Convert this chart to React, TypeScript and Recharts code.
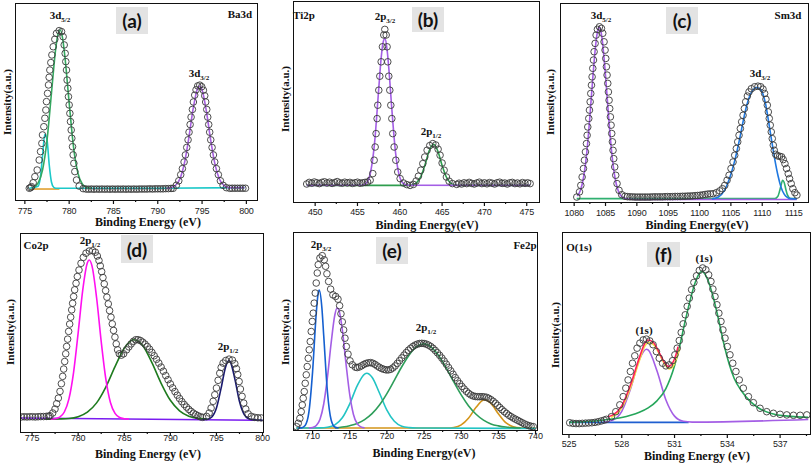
import React from "react";
import { ComposedChart, Line, Scatter, XAxis, YAxis } from "recharts";

type P = [number, number];

const SERIF = '"Liberation Serif", "Times New Roman", serif';
const SANS = '"Liberation Sans", Arial, sans-serif';

// (a) Ba3d
const BA_CIRCLES: P[] = [
  [775.5, 6.0], [775.65, 6.3], [775.75, 6.8], [775.94, 8.8], [776.13, 11.9], [776.39, 15.3], [776.62, 20.4],
  [776.77, 24.7], [776.92, 28.9], [776.99, 33.2], [777.14, 37.4], [777.26, 41.7], [777.37, 45.9], [777.44, 50.2],
  [777.56, 54.4], [777.67, 58.7], [777.74, 62.6], [777.82, 66.3], [777.93, 70.1], [778.05, 74.0], [778.2, 78.2],
  [778.38, 82.0], [778.57, 85.0], [778.87, 86.4], [779.14, 85.9], [779.32, 83.3], [779.44, 79.1], [779.55, 74.8],
  [779.62, 70.6], [779.7, 66.3], [779.77, 61.2], [779.85, 57.0], [779.92, 52.7], [780.0, 48.5], [780.08, 44.2],
  [780.15, 40.0], [780.23, 35.7], [780.3, 31.5], [780.38, 27.2], [780.45, 23.0], [780.53, 18.7], [780.64, 14.5],
  [780.83, 10.2], [781.13, 7.1], [781.58, 5.8], [781.9, 5.6], [782.2, 5.5], [782.5, 5.6], [782.8, 5.5],
  [783.1, 5.6], [783.4, 5.5], [783.7, 5.6], [784.0, 5.5], [784.3, 5.6], [784.6, 5.5], [784.9, 5.6], [785.2, 5.5],
  [785.5, 5.6], [785.8, 5.5], [786.1, 5.6], [786.4, 5.5], [786.7, 5.6], [787.0, 5.5], [787.3, 5.6], [787.6, 5.5],
  [787.9, 5.6], [788.2, 5.6], [788.5, 5.6], [788.8, 5.6], [789.1, 5.7], [789.4, 5.6], [789.7, 5.7], [790.0, 5.7],
  [790.3, 5.7], [790.6, 5.7], [790.9, 5.8], [791.2, 5.8], [791.5, 5.9], [791.73, 5.95], [792.1, 7.5],
  [792.37, 9.8], [792.59, 12.9], [792.78, 16.0], [792.97, 19.4], [793.12, 23.0], [793.27, 26.8], [793.42, 30.7],
  [793.53, 34.6], [793.65, 38.5], [793.76, 42.3], [793.91, 46.2], [794.02, 50.0], [794.17, 53.5], [794.32, 56.2],
  [794.51, 58.2], [794.74, 58.6], [794.96, 57.8], [795.15, 56.0], [795.3, 53.2], [795.41, 50.0], [795.53, 46.2],
  [795.64, 42.3], [795.75, 38.5], [795.86, 34.6], [795.98, 30.7], [796.13, 26.8], [796.28, 23.0], [796.43, 19.4],
  [796.62, 16.0], [796.84, 12.9], [797.07, 9.8], [797.37, 7.5], [797.74, 6.3], [798.12, 5.95], [798.4, 6.0],
  [798.7, 6.0], [799.0, 6.0], [799.3, 6.0], [799.6, 6.0], [799.9, 6.0],
];
const BA_GREEN: P[] = [
  [776.0, 6.6], [776.5, 8.7], [777.0, 15.4], [777.5, 30.5], [778.0, 54.4], [778.5, 77.9], [778.75, 84.8],
  [779.0, 86.7], [779.25, 82.7], [779.5, 73.9], [780.0, 49.6], [780.5, 26.7], [781.0, 13.5], [781.5, 8.0],
  [782.0, 6.4], [782.5, 6.0],
];
const BA_CYAN: P[] = [
  [775.5, 6.0], [776.5, 7.0], [776.75, 11.5], [777.0, 22.8], [777.25, 33.5], [777.5, 30.7], [777.75, 18.0],
  [778.0, 9.2], [778.25, 6.5], [778.5, 6.0], [790.0, 6.0], [799.8, 6.3],
];
const BA_PURPLE: P[] = [
  [791.0, 6.0], [791.5, 6.4], [792.0, 7.5], [792.5, 10.8], [793.0, 18.6], [793.5, 31.6], [794.0, 46.7],
  [794.5, 57.0], [794.75, 58.1], [795.0, 56.2], [795.5, 44.9], [796.0, 29.8], [796.5, 17.4], [797.0, 10.3],
  [797.5, 7.3], [798.0, 6.3], [799.8, 6.3],
];
const BA_ORANGE: P[] = [[775.7, 5.6], [778.9, 5.6]];
const BA_MAJOR = [775, 780, 785, 790, 795, 800];
const BA_MINOR = [777.5, 782.5, 787.5, 792.5, 797.5];

// (b) Ti2p
const TI_CIRCLES: P[] = [
  [449.0, 9.0], [449.3, 9.8], [449.6, 9.4], [449.9, 10.0], [450.2, 9.6], [450.5, 9.2], [450.8, 9.8], [451.1, 10.1],
  [451.4, 9.5], [451.7, 9.9], [452.0, 9.3], [452.3, 9.7], [452.6, 10.2], [452.9, 9.6], [453.2, 9.4], [453.5, 9.9],
  [453.8, 9.5], [454.1, 9.8], [454.4, 9.3], [454.7, 9.6], [455.0, 9.9], [455.3, 9.4], [455.6, 9.6], [455.9, 9.8],
  [456.2, 10.0], [456.5, 10.9], [456.81, 14.2], [456.97, 20.9], [457.09, 27.5], [457.2, 34.2], [457.32, 41.7],
  [457.4, 48.4], [457.52, 55.9], [457.64, 62.9], [457.8, 70.1], [457.95, 77.6], [458.11, 83.5], [458.23, 86.3],
  [458.39, 83.5], [458.5, 77.6], [458.58, 70.1], [458.7, 62.9], [458.82, 55.9], [458.94, 48.4], [459.06, 41.7],
  [459.17, 34.2], [459.33, 27.5], [459.53, 20.9], [459.76, 15.0], [460.04, 11.7], [460.43, 9.5], [460.83, 8.7],
  [461.22, 8.3], [461.61, 8.8], [461.93, 10.5], [462.2, 12.9], [462.48, 15.9], [462.72, 19.2], [462.95, 22.5],
  [463.23, 25.9], [463.54, 28.2], [463.9, 29.2], [464.25, 28.5], [464.53, 26.4], [464.76, 23.4], [465.0, 19.5],
  [465.24, 15.9], [465.51, 12.5], [465.83, 10.4], [466.22, 9.2], [466.73, 8.8], [467.0, 9.4], [467.3, 9.0],
  [467.6, 9.6], [467.9, 9.2], [468.2, 9.8], [468.5, 9.3], [468.8, 9.0], [469.1, 9.5], [469.4, 9.9], [469.7, 9.2],
  [470.0, 9.6], [470.3, 9.1], [470.6, 9.7], [470.9, 9.4], [471.2, 9.0], [471.5, 9.6], [471.8, 9.9], [472.1, 9.3],
  [472.4, 9.5], [472.7, 9.0], [473.0, 9.6], [473.3, 9.8], [473.6, 9.2], [473.9, 9.5], [474.2, 9.1], [474.5, 9.7],
  [474.8, 9.3], [475.1, 9.6], [475.4, 9.2],
];
const TI_PURPLE: P[] = [
  [449.0, 8.3], [455.5, 8.4], [456.0, 9.3], [456.5, 14.0], [457.0, 28.7], [457.5, 55.9], [457.75, 69.7],
  [458.0, 79.2], [458.25, 81.8], [458.5, 76.1], [458.75, 64.5], [459.0, 49.9], [459.5, 24.7], [460.0, 12.4],
  [460.5, 9.0], [461.0, 8.4], [475.4, 8.3],
];
const TI_GREEN: P[] = [
  [449.0, 8.3], [461.0, 8.3], [461.5, 8.6], [462.0, 9.7], [462.5, 12.8], [463.0, 18.9], [463.5, 25.9],
  [464.0, 28.9], [464.5, 25.4], [465.0, 18.3], [465.5, 12.5], [466.0, 9.5], [466.5, 8.5], [467.0, 8.3], [475.4, 8.3],
];
const TI_MAJOR = [450, 455, 460, 465, 470, 475];
const TI_MINOR = [452.5, 457.5, 462.5, 467.5, 472.5];

// (c) Sm3d
const SM_CIRCLES: P[] = [
  [1080.42, 2.5], [1080.85, 5.1], [1081.06, 8.4], [1081.27, 12.6], [1081.48, 16.9], [1081.64, 21.1],
  [1081.8, 25.3], [1081.96, 29.5], [1082.07, 33.7], [1082.17, 37.9], [1082.33, 42.2], [1082.44, 46.4],
  [1082.55, 50.6], [1082.65, 54.8], [1082.76, 59.0], [1082.86, 63.2], [1082.97, 67.5], [1083.08, 71.7],
  [1083.18, 75.9], [1083.34, 80.1], [1083.5, 84.3], [1083.71, 87.2], [1084.03, 88.5], [1084.35, 87.7],
  [1084.56, 85.2], [1084.77, 80.9], [1084.93, 76.7], [1085.04, 72.5], [1085.14, 68.3], [1085.25, 64.1],
  [1085.36, 59.9], [1085.46, 55.6], [1085.57, 51.4], [1085.67, 47.2], [1085.78, 43.0], [1085.89, 38.8],
  [1085.99, 34.6], [1086.1, 30.4], [1086.2, 26.1], [1086.31, 21.9], [1086.47, 17.7], [1086.63, 13.5],
  [1086.84, 9.3], [1087.16, 5.9], [1087.58, 3.7], [1088.11, 2.9], [1088.5, 2.7], [1088.9, 2.6], [1089.3, 2.6],
  [1089.7, 2.5], [1090.1, 2.5], [1090.5, 2.5], [1090.9, 2.5], [1091.3, 2.5], [1091.7, 2.5], [1092.1, 2.5],
  [1092.5, 2.6], [1092.9, 2.6], [1093.3, 2.6], [1093.7, 2.6], [1094.1, 2.6], [1094.5, 2.7], [1094.9, 2.7],
  [1095.3, 2.7], [1095.7, 2.7], [1096.1, 2.8], [1096.5, 2.8], [1096.9, 2.8], [1097.3, 2.9], [1097.7, 2.9],
  [1098.1, 3.0], [1098.5, 3.0], [1098.9, 3.1], [1099.3, 3.2], [1099.7, 3.3], [1100.1, 3.4], [1100.5, 3.6],
  [1100.9, 3.8], [1101.3, 4.0], [1101.7, 4.1], [1102.16, 4.2], [1102.69, 4.7], [1103.22, 5.6], [1103.65, 6.7],
  [1104.02, 8.4], [1104.39, 11.0], [1104.71, 13.5], [1105.02, 16.9], [1105.34, 20.2], [1105.61, 23.6],
  [1105.87, 27.0], [1106.09, 30.4], [1106.3, 33.7], [1106.51, 37.1], [1106.72, 40.5], [1106.94, 43.8],
  [1107.15, 47.2], [1107.36, 50.6], [1107.63, 53.5], [1107.89, 55.6], [1108.26, 57.2], [1108.79, 58.2],
  [1109.32, 58.5], [1109.75, 58.2], [1110.12, 57.0], [1110.38, 54.8], [1110.59, 51.9], [1110.81, 48.9],
  [1110.97, 45.5], [1111.12, 42.2], [1111.28, 38.8], [1111.44, 35.4], [1111.6, 32.0], [1111.76, 28.7],
  [1111.92, 26.1], [1112.13, 24.1], [1112.45, 23.3], [1112.77, 23.1], [1113.09, 22.8], [1113.35, 21.4],
  [1113.62, 19.4], [1113.88, 16.9], [1114.15, 14.3], [1114.36, 11.8], [1114.62, 9.3], [1114.89, 6.7],
  [1115.21, 4.7], [1115.53, 3.5],
];
const SM_PURPLE: P[] = [
  [1080.5, 3.0], [1081.0, 5.9], [1081.5, 12.5], [1082.0, 24.6], [1082.5, 42.8], [1083.0, 63.8], [1083.5, 81.3],
  [1083.75, 86.4], [1084.0, 88.2], [1084.25, 86.4], [1084.5, 81.3], [1085.0, 63.8], [1085.5, 42.8],
  [1086.0, 24.6], [1086.5, 12.5], [1087.0, 5.9], [1087.5, 3.0], [1088.0, 1.9], [1090.0, 1.3], [1115.5, 1.3],
];
const SM_GREEN: P[] = [
  [1080.4, 1.7], [1112.0, 1.7], [1112.5, 2.9], [1112.75, 5.3], [1113.0, 8.4], [1113.25, 11.0], [1113.5, 9.9],
  [1113.75, 6.6], [1114.0, 3.7], [1114.5, 1.8], [1115.5, 1.7],
];
const SM_BLUE: P[] = [
  [1102.0, 1.5], [1103.0, 2.5], [1104.0, 6.0], [1105.0, 14.0], [1105.5, 19.5], [1106.0, 26.0], [1106.5, 33.5],
  [1107.0, 41.5], [1107.5, 48.5], [1108.0, 53.5], [1108.5, 56.5], [1109.0, 57.8], [1109.5, 57.5],
  [1110.0, 55.5], [1110.5, 50.0], [1111.0, 41.0], [1111.5, 31.0], [1112.0, 21.5], [1112.5, 13.5],
  [1113.0, 7.5], [1113.5, 4.0], [1114.0, 2.3], [1114.5, 1.7], [1115.5, 1.5],
];
const SM_MAJOR = [1080, 1085, 1090, 1095, 1100, 1105, 1110, 1115];
const SM_MINOR = [1082.5, 1087.5, 1092.5, 1097.5, 1102.5, 1107.5, 1112.5];

// (d) Co2p
const CO_CIRCLES: P[] = [
  [773.85, 7.6], [774.15, 7.7], [774.45, 7.6], [774.75, 7.7], [775.05, 7.7], [775.35, 7.6], [775.65, 7.7],
  [775.95, 7.8], [776.25, 7.8], [776.55, 7.9], [776.8, 8.0], [776.95, 8.2], [777.24, 9.6], [777.49, 11.6],
  [777.67, 14.3], [777.85, 17.1], [778.03, 20.5], [778.18, 24.4], [778.32, 28.1], [778.43, 31.8], [778.54, 35.6],
  [778.65, 39.5], [778.75, 43.2], [778.86, 46.9], [778.97, 50.8], [779.08, 54.5], [779.19, 58.0], [779.3, 61.7],
  [779.4, 65.0], [779.51, 68.4], [779.62, 71.8], [779.77, 75.1], [779.91, 78.5], [780.09, 81.8], [780.31, 85.2],
  [780.56, 88.2], [780.85, 90.3], [781.21, 91.4], [781.57, 91.6], [781.86, 90.8], [782.08, 88.9], [782.26, 86.6],
  [782.4, 83.9], [782.55, 81.0], [782.69, 78.0], [782.83, 74.8], [782.98, 71.4], [783.12, 68.1], [783.27, 64.7],
  [783.41, 61.3], [783.56, 58.0], [783.7, 54.6], [783.84, 51.3], [783.99, 47.9], [784.13, 44.5], [784.28, 41.5],
  [784.46, 39.5], [784.68, 38.8], [784.93, 39.5], [785.25, 41.5], [785.5, 43.0], [785.75, 44.5], [786.0, 45.8],
  [786.25, 46.6], [786.5, 46.6], [786.75, 46.2], [787.0, 45.4], [787.25, 44.4], [787.5, 43.2], [787.75, 41.8],
  [788.0, 40.2], [788.25, 38.5], [788.5, 36.7], [788.75, 34.8], [789.0, 32.8], [789.25, 30.7], [789.5, 28.5],
  [789.75, 26.4], [790.0, 24.3], [790.25, 22.3], [790.5, 20.4], [790.75, 18.6], [791.0, 16.9], [791.25, 15.3],
  [791.5, 13.9], [791.75, 12.6], [792.0, 11.4], [792.25, 10.4], [792.5, 9.5], [792.75, 8.8], [793.0, 8.2],
  [793.25, 7.7], [793.5, 7.4], [793.92, 7.9], [794.21, 9.6], [794.42, 12.1], [794.64, 15.5], [794.82, 18.8],
  [795.0, 22.2], [795.18, 26.1], [795.36, 29.7], [795.51, 32.6], [795.72, 34.8], [796.01, 36.1], [796.37, 36.8],
  [796.73, 36.3], [796.99, 34.5], [797.17, 32.0], [797.31, 29.0], [797.46, 25.5], [797.6, 21.7], [797.78, 18.0],
  [797.96, 14.6], [798.18, 11.6], [798.43, 9.2], [798.79, 7.9], [799.15, 7.4], [799.5, 7.2], [799.85, 7.1],
];
const CO_MAGENTA: P[] = [
  [777.0, 6.5], [777.5, 6.7], [778.0, 7.5], [778.5, 10.1], [779.0, 16.7], [779.5, 30.0], [780.0, 50.1],
  [780.5, 71.8], [781.0, 85.5], [781.2, 86.9], [781.5, 83.9], [782.0, 67.8], [782.5, 45.7], [783.0, 26.8],
  [783.5, 14.9], [784.0, 9.4], [784.5, 7.3], [785.0, 6.7], [785.5, 6.5],
];
const CO_GREEN: P[] = [
  [776.5, 6.5], [778.0, 6.6], [779.0, 6.8], [780.0, 7.7], [781.0, 10.0], [782.0, 14.7], [783.0, 22.7],
  [784.0, 33.0], [785.0, 42.3], [786.0, 46.6], [787.0, 43.7], [788.0, 35.0], [789.0, 24.6], [790.0, 16.0],
  [791.0, 10.7], [792.0, 8.0], [793.0, 6.9], [794.0, 6.6],
];
const CO_NAVY: P[] = [
  [793.5, 6.3], [794.0, 6.4], [794.5, 7.6], [795.0, 12.1], [795.5, 22.0], [796.0, 33.0], [796.35, 36.1],
  [796.5, 35.5], [797.0, 26.7], [797.5, 15.4], [798.0, 8.9], [798.5, 6.7], [799.0, 6.2], [800.0, 6.0],
];
const CO_BASE: P[] = [[773.8, 7.1], [800.0, 5.9]];
const CO_MAJOR = [775, 780, 785, 790, 795, 800];
const CO_MINOR = [777.5, 782.5, 787.5, 792.5, 797.5];

// (e) Fe2p
const FE_CIRCLES: P[] = [
  [707.84, 1.7], [708.07, 3.4], [708.29, 5.9], [708.47, 9.3], [708.61, 12.7], [708.74, 16.1], [708.88, 19.5],
  [709.01, 23.7], [709.15, 28.0], [709.28, 32.2], [709.42, 36.4], [709.55, 40.7], [709.69, 44.9], [709.82, 50.0],
  [709.96, 55.1], [710.09, 59.3], [710.22, 64.4], [710.36, 69.5], [710.49, 74.6], [710.63, 79.7], [710.76, 83.9],
  [710.99, 87.3], [711.3, 88.5], [711.57, 86.4], [711.75, 83.1], [711.93, 79.3], [712.16, 75.4], [712.43, 71.5],
  [712.74, 68.6], [713.1, 67.8], [713.42, 66.4], [713.64, 63.1], [713.82, 59.0], [714.0, 54.9], [714.18, 50.8],
  [714.36, 46.6], [714.54, 42.4], [714.77, 38.5], [715.04, 35.1], [715.35, 33.1], [715.76, 31.9], [716.0, 31.7],
  [716.3, 32.0], [716.6, 32.6], [716.9, 33.3], [717.2, 33.8], [717.5, 34.1], [717.8, 34.2], [718.1, 33.9],
  [718.4, 33.3], [718.7, 32.5], [719.0, 31.8], [719.3, 31.2], [719.6, 30.8], [719.9, 30.5], [720.2, 30.5],
  [720.5, 30.8], [720.8, 31.5], [721.1, 32.5], [721.4, 33.8], [721.7, 35.2], [722.0, 36.6], [722.3, 38.0],
  [722.6, 39.3], [722.9, 40.5], [723.2, 41.5], [723.5, 42.4], [723.8, 43.1], [724.1, 43.6], [724.4, 43.9],
  [724.7, 44.0], [725.0, 43.9], [725.3, 43.6], [725.6, 43.1], [725.9, 42.4], [726.2, 41.5], [726.5, 40.4],
  [726.8, 39.2], [727.1, 37.9], [727.4, 36.5], [727.7, 35.0], [728.0, 33.4], [728.3, 31.7], [728.6, 30.0],
  [728.9, 28.3], [729.2, 26.6], [729.5, 25.0], [729.8, 23.5], [730.1, 22.1], [730.4, 20.8], [730.7, 19.6],
  [731.0, 18.6], [731.3, 17.8], [731.6, 17.3], [731.9, 17.0], [732.2, 16.9], [732.5, 16.9], [732.8, 16.9],
  [733.1, 16.8], [733.4, 16.6], [733.7, 16.1], [734.0, 15.4], [734.3, 14.6], [734.6, 13.6], [734.9, 12.5],
  [735.2, 11.4], [735.5, 10.3], [735.8, 9.3], [736.1, 8.4], [736.4, 7.5], [736.7, 6.8], [737.0, 6.1],
  [737.3, 5.5], [737.6, 4.9], [737.9, 4.3], [738.2, 3.7], [738.5, 3.1], [738.8, 2.6], [739.1, 2.2],
  [739.4, 1.9], [739.7, 1.7],
];
const FE_BLUE: P[] = [
  [708.0, 1.0], [708.5, 1.1], [709.0, 2.3], [709.5, 8.9], [710.0, 29.5], [710.5, 59.6], [710.75, 69.3],
  [710.9, 71.0], [711.25, 62.1], [711.5, 47.9], [712.0, 19.3], [712.5, 5.1], [713.0, 1.5], [713.5, 1.0],
];
const FE_PURPLE: P[] = [
  [709.5, 1.1], [710.0, 1.3], [710.5, 2.3], [711.0, 5.5], [711.5, 13.2], [712.0, 26.8], [712.5, 44.2],
  [713.0, 58.5], [713.3, 61.9], [713.5, 61.3], [714.0, 50.9], [714.5, 33.6], [715.0, 17.9], [715.5, 7.9],
  [716.0, 3.2], [716.5, 1.6], [717.0, 1.1],
];
const FE_CYAN: P[] = [
  [707.8, 1.0], [711.0, 1.1], [712.0, 1.4], [713.0, 2.6], [714.0, 6.2], [715.0, 13.3], [716.0, 22.4],
  [717.0, 28.4], [717.3, 28.8], [718.0, 26.8], [719.0, 18.8], [720.0, 10.1], [721.0, 4.4], [722.0, 1.9],
  [723.0, 1.2], [724.0, 1.0], [740.0, 0.8],
];
const FE_GREEN: P[] = [
  [713.0, 1.0], [714.0, 1.5], [715.0, 2.2], [716.0, 3.3], [717.0, 5.3], [718.0, 8.3], [719.0, 12.7],
  [720.0, 18.5], [721.0, 25.2], [722.0, 32.1], [723.0, 38.1], [724.0, 42.3], [725.0, 43.7], [726.0, 42.0],
  [727.0, 37.6], [728.0, 31.4], [729.0, 24.4], [730.0, 17.8], [731.0, 12.2], [732.0, 8.0], [733.0, 5.0],
  [734.0, 3.1], [735.0, 2.1], [736.0, 1.5], [737.0, 1.2], [738.0, 1.0],
];
const FE_ORANGE: P[] = [
  [707.8, 1.0], [728.0, 1.0], [729.0, 1.3], [730.0, 2.6], [731.0, 6.1], [732.0, 11.5], [733.0, 15.2],
  [733.2, 15.3], [734.0, 13.5], [735.0, 8.2], [736.0, 3.7], [737.0, 1.7], [738.0, 1.1], [740.0, 1.0],
];
const FE_MAJOR = [710, 715, 720, 725, 730, 735, 740];
const FE_MINOR = [712.5, 717.5, 722.5, 727.5, 732.5, 737.5];

// (f) O1s
const O_CIRCLES: P[] = [
  [525.04, 5.6], [525.22, 5.3], [525.4, 5.2], [525.58, 5.2], [525.76, 5.3], [525.94, 5.4], [526.12, 5.5],
  [526.3, 5.6], [526.48, 5.8], [526.66, 6.1], [526.84, 6.5], [527.0, 6.9], [527.13, 7.3], [527.41, 8.6],
  [527.66, 11.1], [527.89, 14.5], [528.08, 18.6], [528.23, 22.8], [528.36, 26.9], [528.49, 31.1], [528.61, 35.2],
  [528.74, 38.9], [528.87, 42.7], [529.03, 45.2], [529.22, 46.8], [529.4, 47.2], [529.59, 46.3], [529.78, 44.4],
  [529.97, 41.0], [530.13, 37.7], [530.32, 35.2], [530.51, 33.9], [530.7, 34.4], [530.89, 36.5], [531.02, 39.4],
  [531.15, 42.7], [531.27, 46.5], [531.38, 50.5], [531.49, 54.8], [531.61, 59.3], [531.72, 63.5], [531.84, 67.6],
  [531.97, 71.8], [532.1, 75.4], [532.25, 78.7], [532.41, 81.4], [532.6, 82.6], [532.78, 81.7], [532.94, 79.2],
  [533.07, 75.9], [533.18, 72.1], [533.3, 68.4], [533.41, 64.3], [533.52, 60.1], [533.64, 56.0], [533.75, 51.8],
  [533.87, 47.7], [534.0, 43.5], [534.15, 39.4], [534.31, 35.2], [534.49, 31.1], [534.68, 26.9], [534.91, 22.8],
  [535.2, 18.6], [535.48, 15.6], [535.86, 12.8], [536.24, 11.1], [536.62, 10.3], [537.0, 9.8], [537.38, 9.5],
  [537.76, 9.3], [538.14, 9.3], [538.52, 9.5],
];
const O_BLUE: P[] = [[525.0, 5.8], [531.8, 5.8]];
const O_PURPLE: P[] = [
  [527.0, 5.9], [527.5, 6.9], [528.0, 11.3], [528.5, 22.5], [529.0, 37.0], [529.4, 42.2], [529.5, 41.8],
  [530.0, 31.5], [530.5, 17.2], [531.0, 8.9], [531.5, 6.3], [532.0, 5.9], [538.6, 7.2],
];
const O_GREEN: P[] = [
  [525.0, 5.8], [526.0, 6.2], [527.0, 7.0], [528.0, 8.2], [528.5, 9.3], [529.0, 10.8], [529.5, 13.0],
  [530.0, 16.5], [530.5, 22.5], [531.0, 34.0], [531.3, 44.0], [531.6, 56.0], [531.9, 67.0], [532.2, 76.0],
  [532.55, 80.9], [532.9, 76.5], [533.2, 68.0], [533.5, 57.0], [533.8, 45.0], [534.1, 35.0], [534.4, 27.5],
  [534.8, 21.5], [535.3, 16.2], [535.8, 12.8], [536.5, 10.2], [537.3, 9.0], [538.0, 8.5], [538.6, 8.3],
];
const O_YELLOW: P[] = [
  [527.4, 8.2], [528.0, 13.0], [528.5, 23.0], [529.0, 36.5], [529.3, 43.5], [529.55, 45.5], [529.85, 44.0],
  [530.15, 39.5], [530.45, 34.5], [530.7, 32.4], [530.95, 34.2], [531.15, 38.5], [531.3, 42.5],
];
const O_RED: P[] = [
  [527.2, 8.6], [527.5, 9.5], [528.0, 14.0], [528.5, 24.5], [529.0, 38.0], [529.3, 45.0], [529.5, 46.8],
  [529.8, 45.5], [530.1, 41.0], [530.4, 36.0], [530.65, 33.6], [530.9, 35.5], [531.1, 40.0], [531.2, 43.5],
];
const O_MAJOR = [525, 528, 531, 534, 537];
const O_MINOR = [526.5, 529.5, 532.5, 535.5, 538.5];

interface Curve { pts: P[]; color: string; width?: number }

interface PanelProps {
  left: number; top: number; width: number; height: number;
  domain: [number, number];
  major: number[]; minor: number[];
  labelDy: number;
  circles: P[];
  curves: Curve[];
}

const rows = (pts: P[]) => pts.map(([x, y]) => ({ x, y }));

const openCircle = (p: any) => (
  <circle cx={p.cx} cy={p.cy} r={3.3} fill="none" stroke="#3a3a3a" strokeWidth={0.9} />
);

function Panel({ left, top, width, height, domain, major, minor, labelDy, circles, curves }: PanelProps) {
  const ticks = [...major, ...minor].sort((a, b) => a - b);
  const renderTick = (props: any) => {
    const { x, y, payload } = props;
    const isMajor = major.includes(payload.value);
    return (
      <g>
        <line x1={x} x2={x} y1={y} y2={y + (isMajor ? 4 : 2)} stroke="#111" strokeWidth={1.2} />
        {isMajor && (
          <text x={x} y={y + labelDy} textAnchor="middle" fontSize={9} letterSpacing={-0.2} fontFamily={SANS} fill="#222">
            {payload.value}
          </text>
        )}
      </g>
    );
  };
  return (
    <div style={{ position: "absolute", left, top }}>
      <ComposedChart width={width} height={height + 26} margin={{ top: 0, right: 0, bottom: 0, left: 0 }}>
        <XAxis
          dataKey="x" type="number" domain={domain} allowDataOverflow ticks={ticks} interval={0}
          tick={renderTick} tickLine={false} axisLine={false} tickSize={0} tickMargin={0} height={26}
        />
        <YAxis dataKey="y" type="number" domain={[0, 100]} allowDataOverflow hide />
        <Scatter data={rows(circles)} dataKey="y" shape={openCircle} isAnimationActive={false} />
        {curves.map((c, i) => (
          <Line
            key={i} data={rows(c.pts)} dataKey="y" type="monotone" dot={false} activeDot={false}
            stroke={c.color} strokeWidth={c.width ?? 1.6} isAnimationActive={false}
          />
        ))}
      </ComposedChart>
      <div
        style={{
          position: "absolute", left: -0.75, top: -0.75, width: width + 1.5, height: height + 1.5,
          border: "1.5px solid #111", boxSizing: "border-box", pointerEvents: "none",
        }}
      />
    </div>
  );
}

function Txt({ x, y, size = 11, children, rotate = false, font = SERIF }: any) {
  return (
    <div
      style={{
        position: "absolute", left: x, top: y, whiteSpace: "nowrap", fontFamily: font, fontWeight: 700,
        fontSize: size, lineHeight: 1, color: "#111",
        transform: `translate(-50%, -50%)${rotate ? " rotate(-90deg)" : ""}`,
      }}
    >
      {children}
    </div>
  );
}

function Peak({ x, y, main, sub }: { x: number; y: number; main: string; sub?: string }) {
  return (
    <Txt x={x} y={y} size={11}>
      {main}
      {sub && <span style={{ fontSize: 7, verticalAlign: -3 }}>{sub}</span>}
    </Txt>
  );
}

function Tag({ x, y, w, h, text }: { x: number; y: number; w: number; h: number; text: string }) {
  return (
    <div
      style={{
        position: "absolute", left: x, top: y, width: w, height: h, background: "#e3e3e3",
        display: "flex", alignItems: "center", justifyContent: "center",
        fontFamily: "Lato, sans-serif", fontWeight: 700, fontSize: 19, color: "#111",
      }}
    >
      {text}
    </div>
  );
}

export default function App() {
  return (
    <div style={{ position: "absolute", left: 0, top: 0, width: 812, height: 463, background: "#fff", overflow: "hidden" }}>
      <style>{".recharts-surface { overflow: visible; }"}</style>
      <Panel
        left={16} top={4} width={241} height={196} domain={[774.0, 801.2]} major={BA_MAJOR} minor={BA_MINOR}
        labelDy={14} circles={BA_CIRCLES}
        curves={[
          { pts: BA_ORANGE, color: "#e0a030" },
          { pts: BA_CYAN, color: "#1cc8c8" },
          { pts: BA_GREEN, color: "#35a860" },
          { pts: BA_PURPLE, color: "#a860e0" },
        ]}
      />
      <Panel
        left={294} top={2} width={245} height={200} domain={[447.5, 476.45]} major={TI_MAJOR} minor={TI_MINOR}
        labelDy={13} circles={TI_CIRCLES}
        curves={[
          { pts: TI_GREEN, color: "#2e9d4e" },
          { pts: TI_PURPLE, color: "#a45ee5" },
        ]}
      />
      <Panel
        left={561} top={4} width={247} height={198} domain={[1077.9, 1117.3]} major={SM_MAJOR} minor={SM_MINOR}
        labelDy={13.5} circles={SM_CIRCLES}
        curves={[
          { pts: SM_GREEN, color: "#30b070" },
          { pts: SM_PURPLE, color: "#a45ee5" },
          { pts: SM_BLUE, color: "#1f78e0" },
        ]}
      />
      <Panel
        left={21} top={234} width={242} height={198} domain={[773.8, 800.05]} major={CO_MAJOR} minor={CO_MINOR}
        labelDy={9} circles={CO_CIRCLES}
        curves={[
          { pts: CO_BASE, color: "#7a1cf0" },
          { pts: CO_GREEN, color: "#1e7b1e" },
          { pts: CO_MAGENTA, color: "#ff10f0" },
          { pts: CO_NAVY, color: "#1a1a6e" },
        ]}
      />
      <Panel
        left={294} top={233} width={243} height={197} domain={[707.5, 740.2]} major={FE_MAJOR} minor={FE_MINOR}
        labelDy={9} circles={FE_CIRCLES}
        curves={[
          { pts: FE_ORANGE, color: "#d4951a" },
          { pts: FE_CYAN, color: "#22c4c4" },
          { pts: FE_GREEN, color: "#2e9e5a" },
          { pts: FE_PURPLE, color: "#a45ee5" },
          { pts: FE_BLUE, color: "#1560d0" },
        ]}
      />
      <Panel
        left={563} top={233} width={247} height={201} domain={[524.66, 538.7]} major={O_MAJOR} minor={O_MINOR}
        labelDy={12.5} circles={O_CIRCLES}
        curves={[
          { pts: O_BLUE, color: "#1f5fd0" },
          { pts: O_PURPLE, color: "#a45ee5" },
          { pts: O_GREEN, color: "#26a65b" },
          { pts: O_YELLOW, color: "#f2e04a" },
          { pts: O_RED, color: "#ff1f5a" },
        ]}
      />

      {/* axis titles */}
      <Txt x={148} y={222} size={12}>Binding Energy (eV)</Txt>
      <Txt x={427} y={224.5} size={12}>Binding Energy(eV)</Txt>
      <Txt x={697} y={224.5} size={12}>Binding Energy(eV)</Txt>
      <Txt x={148} y={454} size={12}>Binding Energy (eV)</Txt>
      <Txt x={424} y={453} size={12}>Binding Energy(eV)</Txt>
      <Txt x={697} y={456} size={12}>Binding Energy (eV)</Txt>

      <Txt x={7} y={102} size={11} rotate>Intensity(a.u.)</Txt>
      <Txt x={285} y={99} size={11} rotate>Intensity(a.u.)</Txt>
      <Txt x={550} y={102} size={11} rotate>Intensity(a.u.)</Txt>
      <Txt x={10} y={332} size={11} rotate>Intensity(a.u.)</Txt>
      <Txt x={285} y={332} size={11} rotate>Intensity(a.u.)</Txt>
      <Txt x={555} y={335} size={11} rotate>Intensity(a.u.)</Txt>

      {/* element names */}
      <Txt x={240} y={14}>Ba3d</Txt>
      <Txt x={304} y={15}>Ti2p</Txt>
      <Txt x={788} y={15}>Sm3d</Txt>
      <Txt x={36} y={245}>Co2p</Txt>
      <Txt x={525} y={245}>Fe2p</Txt>
      <Txt x={579} y={247}>O(1s)</Txt>

      {/* peak labels */}
      <Peak x={60} y={17} main="3d" sub="5/2" />
      <Peak x={199} y={75} main="3d" sub="3/2" />
      <Peak x={385} y={18} main="2p" sub="3/2" />
      <Peak x={431} y={133} main="2p" sub="1/2" />
      <Peak x={601} y={17} main="3d" sub="5/2" />
      <Peak x={760} y={75} main="3d" sub="3/2" />
      <Peak x={90} y={242} main="2p" sub="1/2" />
      <Peak x={228} y={348} main="2p" sub="1/2" />
      <Peak x={321} y={246} main="2p" sub="3/2" />
      <Peak x={426} y={329} main="2p" sub="1/2" />
      <Peak x={644} y={330} main="(1s)" />
      <Peak x={704} y={258} main="(1s)" />

      {/* panel tags */}
      <Tag x={116} y={7} w={32} h={27} text="(a)" />
      <Tag x={412} y={7} w={32} h={25} text="(b)" />
      <Tag x={666} y={7} w={32} h={27} text="(c)" />
      <Tag x={121} y={235} w={32} h={28} text="(d)" />
      <Tag x={376} y={237} w={32} h={27} text="(e)" />
      <Tag x={647} y={242} w={33} h={25} text="(f)" />
    </div>
  );
}
